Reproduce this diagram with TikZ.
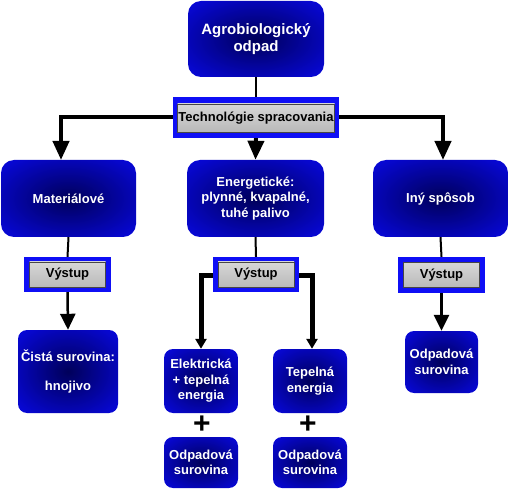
\documentclass[tikz,border=0pt]{standalone}
\usepackage{fontspec}
\setmainfont{Liberation Sans}
\usetikzlibrary{arrows.meta}
\definecolor{bbright}{RGB}{8,8,225}
\definecolor{bdark}{RGB}{0,0,90}
\definecolor{framecol}{RGB}{15,15,245}
\definecolor{metalA}{RGB}{215,215,215}
\definecolor{metalB}{RGB}{185,185,185}
\definecolor{metaledge}{RGB}{70,70,70}
\pgfdeclareradialshading{boxshade}{\pgfpoint{0bp}{0bp}}{color(0bp)=(bdark); color(36bp)=(bbright); color(50bp)=(bbright)}
\begin{document}
\begin{tikzpicture}[x=1pt,y=-1pt,
  bluebox/.style={rectangle, rounded corners=11pt, shading=boxshade,
    text=white, font=\bfseries\fontsize{13}{15.5}\selectfont, align=center, inner sep=0pt},
  framebox/.style={rectangle, fill=framecol, inner sep=0pt},
  metalbox/.style={rectangle, draw=metaledge, line width=0.6pt, top color=metalA, bottom color=metalB,
    text=black, font=\bfseries\fontsize{13}{15.5}\selectfont, inner sep=0pt},
  conn/.style={line width=2pt, black},
  heavy/.style={line width=4pt, black, -{Triangle[length=19pt,width=16pt]}},
  midarrow/.style={line width=2.5pt, black, -{Triangle[length=16pt,width=15pt]}},
  branch/.style={line width=5pt, black, -{Triangle[length=10pt,width=11pt]}},
  plussign/.style={font=\bfseries\fontsize{30}{30}\selectfont, text=black, inner sep=0pt}
]
\useasboundingbox (0,0) rectangle (509,489);

\coordinate (hl) at (61,160);
\coordinate (hr) at (443,160);

% top level
\node[bluebox, rounded corners=13pt, minimum width=136pt, minimum height=76pt,
      font=\bfseries\fontsize{15}{17}\selectfont] (top) at (256,39) {Agrobiologický\\odpad};

\node[framebox, minimum width=166pt, minimum height=41pt] (tech) at (256,117.5) {};
\node[metalbox, minimum width=157pt, minimum height=28pt] (techi) at (256,118) {Technológie spracovania};

% second level
\node[bluebox, rounded corners=13pt, minimum width=135pt, minimum height=77pt] (mat) at (68.5,198.5) {Materiálové};
\node[bluebox, rounded corners=13pt, minimum width=137pt, minimum height=77pt] (ene) at (255.5,198.5) {Energetické:\\plynné, kvapalné,\\tuhé palivo};
\node[bluebox, rounded corners=13pt, minimum width=135pt, minimum height=77pt] (iny) at (440.5,198.5) {Iný spôsob};

% Výstup boxes
\node[framebox, minimum width=87pt, minimum height=35pt] (vyL) at (67.5,274.5) {};
\node[metalbox, minimum width=76pt, minimum height=25pt] (vyLi) at (67.5,274.5) {Výstup};
\node[framebox, minimum width=86pt, minimum height=35pt] (vyC) at (256,274.5) {};
\node[metalbox, minimum width=76pt, minimum height=25pt] (vyCi) at (256,274.5) {Výstup};
\node[framebox, minimum width=87pt, minimum height=36pt] (vyR) at (441.5,275) {};
\node[metalbox, minimum width=76pt, minimum height=25pt] (vyRi) at (441.5,275) {Výstup};

% bottom level
\node[bluebox, rounded corners=9pt, minimum width=100pt, minimum height=83pt] (cista) at (68,371.5) {Čistá surovina:\\[13pt]hnojivo};
\node[bluebox, rounded corners=9pt, minimum width=74pt, minimum height=64pt] (elek) at (201,381) {Elektrická\\+ tepelná\\energia};
\node[bluebox, rounded corners=9pt, minimum width=74pt, minimum height=64pt] (tep) at (310,381) {Tepelná\\energia};
\node[bluebox, rounded corners=9pt, minimum width=74pt, minimum height=51pt] (odpL) at (201,462.5) {Odpadová\\surovina};
\node[bluebox, rounded corners=9pt, minimum width=74pt, minimum height=51pt] (odpC) at (310,462.5) {Odpadová\\surovina};
\node[bluebox, rounded corners=9pt, minimum width=73pt, minimum height=62pt] (odpR) at (441.5,362) {Odpadová\\surovina};

\node[plussign] (p1) at (202,425) {+};
\node[plussign] (p2) at (308,425) {+};

% connectors
\draw[conn] (top.south) -- (tech.north);
\draw[heavy] (tech.west) -| (hl);
\draw[heavy] (tech.east) -| (hr);
\draw[heavy] (tech.south) -- (ene.north);

\draw[conn] (mat.south) -- (vyL.north);
\draw[midarrow] (vyL.south) -- (cista.north);

\draw[conn] (ene.south) -- (vyC.north);
\draw[branch] ([yshift=-1.5pt]vyC.west) -| (elek.north);
\draw[branch] ([yshift=-1.5pt]vyC.east) -| ([xshift=2pt]tep.north);

\draw[conn] (iny.south) -- (vyR.north);
\draw[midarrow] (vyR.south) -- (odpR.north);
\end{tikzpicture}
\end{document}
